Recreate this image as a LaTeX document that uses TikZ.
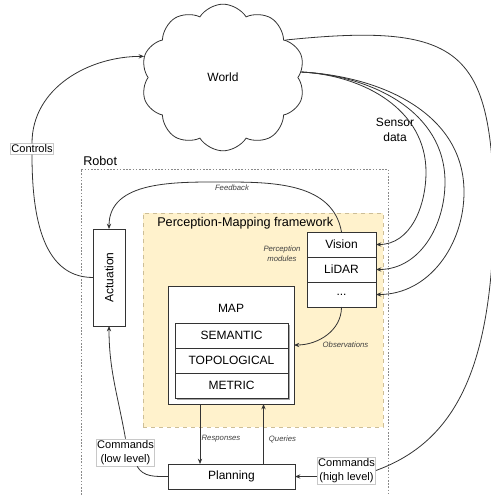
\documentclass[tikz,border=0pt]{standalone}
\usepackage{fontspec}
\setsansfont{Liberation Sans}
\usepackage{tikz}
\usetikzlibrary{arrows.meta, positioning, shapes.symbols, shadows}
\definecolor{LineDark}{HTML}{333333}
\definecolor{RobotGray}{HTML}{8A8A8A}
\definecolor{FrameYellow}{HTML}{FFF2CC}
\definecolor{FrameBorder}{HTML}{CDBE96}
\definecolor{LabelFrame}{HTML}{C8C8C8}
\definecolor{NoteText}{HTML}{404040}
\tikzset{
  blockbox/.style={draw=LineDark, fill=white, rectangle, line width=0.6pt,
                   inner sep=0pt, outer sep=0pt,
                   font=\sffamily\fontsize{9}{10.8}\selectfont, align=center},
  layerbox/.style={blockbox, minimum width=84.75pt, minimum height=18.75pt,
                   drop shadow={shadow xshift=1.2pt, shadow yshift=-1.2pt,
                                opacity=0.35, fill=black}},
  sensorbox/.style={blockbox, minimum width=51.75pt, minimum height=18.75pt},
  worldcloud/.style={cloud, cloud puffs=10, cloud puff arc=115, cloud ignores aspect,
                     minimum width=123pt, minimum height=110pt,
                     draw=LineDark, fill=white, line width=0.6pt,
                     font=\sffamily\fontsize{9}{10.8}\selectfont},
  edgebox/.style={draw=LabelFrame, fill=white, rectangle, line width=0.5pt,
                  inner xsep=0.6pt, inner ysep=1pt,
                  font=\sffamily\fontsize{8.3}{10.5}\selectfont, align=center},
  notelabel/.style={font=\sffamily\itshape\fontsize{5.8}{7.5}\selectfont,
                    text=NoteText, align=center, inner sep=0pt},
  plaintext/.style={font=\sffamily\fontsize{9}{11.25}\selectfont, align=center, inner sep=0pt},
  arrowstd/.style={-{Stealth[length=4pt, width=3.2pt]}, line width=0.6pt, draw=LineDark},
  linestd/.style={line width=0.6pt, draw=LineDark}
}

\begin{document}
\begin{tikzpicture}[x=0.75pt, y=-0.75pt]
  \useasboundingbox (0,0) rectangle (490,495);

  % robot frame (open below the page edge)
  \draw[RobotGray, line width=0.6pt, dash pattern=on 1.2pt off 1.2pt] (81,495) |- (388,169) -- (388,495);
  \node[plaintext, anchor=west, font=\sffamily\fontsize{9.5}{11}\selectfont] (robotlbl) at (83,161) {Robot};

  % perception-mapping framework
  \node[draw=FrameBorder, fill=FrameYellow, dashed, line width=0.5pt, inner sep=0pt,
        minimum width=180pt, minimum height=160.5pt] (pmf) at (263,320) {};
  \node[plaintext, anchor=west, font=\sffamily\fontsize{9.5}{11}\selectfont] (pmftitle) at (157,223) {Perception-Mapping framework};

  \node[worldcloud] (world) at (223,77.5) {World};

  \node[blockbox, minimum width=24pt, minimum height=72.75pt] (actuation) at (109,277.5) {\rotatebox{90}{Actuation}};

  \node[sensorbox]                   (vision) at (341.5,244.5) {Vision};
  \node[sensorbox, below=0pt of vision] (lidar)  {LiDAR};
  \node[sensorbox, below=0pt of lidar]  (others) {...};

  \node[blockbox, minimum width=94.5pt, minimum height=88.5pt] (map) at (231,345) {};
  \node[plaintext] (maptitle) at (231,308) {MAP};
  \node[layerbox]                          (semantic)    at (231.5,335.5) {SEMANTIC};
  \node[layerbox, below=0pt of semantic]    (topological) {TOPOLOGICAL};
  \node[layerbox, below=0pt of topological] (metric)      {METRIC};

  \node[blockbox, minimum width=95.25pt, minimum height=18.75pt] (planning) at (231.5,476.5) {Planning};

  % labels
  \node[edgebox]   (controls)    at (32,149)       {Controls};
  \node[edgebox]   (cmdlow)      at (125.5,452.5)  {Commands\\(low level)};
  \node[edgebox]   (cmdhigh)     at (346.5,470.5)  {Commands\\(high level)};
  \node[plaintext] (sensorlbl)   at (395,129.5)    {Sensor\\data};
  \node[notelabel] (feedbacklbl) at (232,188)      {Feedback};
  \node[notelabel] (moduleslbl)  at (282,254)      {Perception\\modules};
  \node[notelabel] (obslbl)      at (345.5,345)    {Observations};
  \node[notelabel] (resplbl)     at (221,439)      {Responses};
  \node[notelabel] (querylbl)    at (282.5,439)    {Queries};

  % connectors
  \draw[linestd]  (actuation.west) to[out=180,in=-90] (controls.south);
  \draw[arrowstd] (controls.north) to[out=90,in=180] (world.165);

  \draw[arrowstd] (world.4) to[out=-3,in=90] (426,172) to[out=-90,in=0] (vision.east);
  \draw[arrowstd] (world.4) to[out=-3,in=90] (445,182) to[out=-90,in=0] (lidar.east);
  \draw[arrowstd] (world.4) to[out=-3,in=90] (464,192) to[out=-90,in=0] (others.east);

  \draw[arrowstd] (vision.north) to[out=100,in=0] (225,182) to[out=180,in=90] (actuation.north);
  \draw[arrowstd] (others.south) to[out=-90,in=0] (map.east);

  \draw[arrowstd] ([xshift=-23.25pt]map.south) -- ([xshift=-23.25pt]map.south |- planning.north);
  \draw[arrowstd] ([xshift=24pt]planning.north) -- ([xshift=24pt]planning.north |- map.south);

  \draw[linestd]  (planning.west) to[out=180,in=-60] (cmdlow.-50);
  \draw[arrowstd] (cmdlow.north) to[out=100,in=-90] (actuation.south);

  \draw[linestd]  (world.31) .. controls (460,22) and (490,50) .. (494,200)
                  .. controls (494,360) and (460,440) .. (cmdhigh.east);
  \draw[arrowstd] (cmdhigh.west |- planning.east) -- (planning.east);
\end{tikzpicture}
\end{document}
